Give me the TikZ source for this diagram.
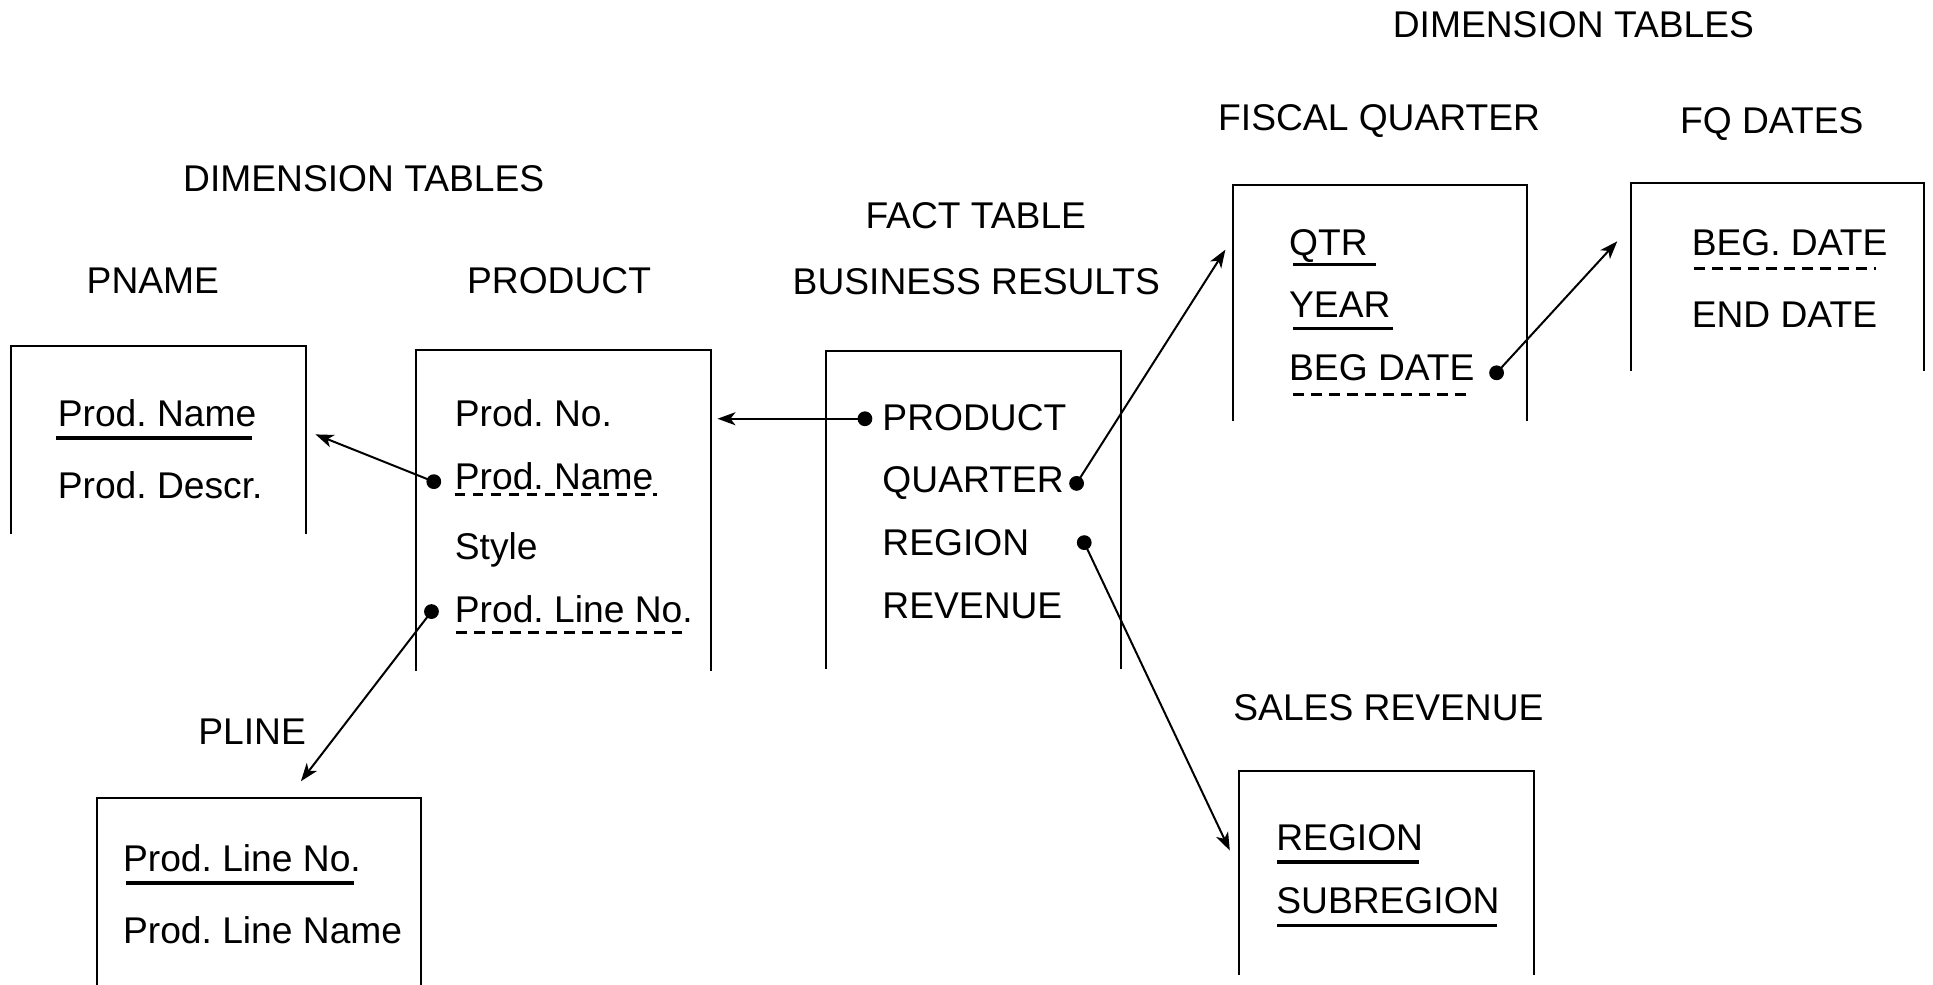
\documentclass[tikz,border=0pt]{standalone}
\usepackage{fontspec}
\setmainfont{Liberation Sans}
\usetikzlibrary{arrows.meta}
\frenchspacing
\begin{document}
\begin{tikzpicture}[x=0.61639pt,y=-0.615625pt,
 txt/.style={anchor=base west,inner sep=0pt,font=\fontsize{18.6pt}{22pt}\selectfont},
 ttl/.style={anchor=base,inner sep=0pt,font=\fontsize{18.6pt}{22pt}\selectfont},
 tbl/.style={line width=1pt},
 pkey/.style={line width=1.7pt},
 fkey/.style={line width=1.5pt,dash pattern=on 5.4pt off 3.6pt},
 link/.style={line width=1pt,-{Stealth[length=9pt,width=6.5pt,inset=2.5pt]}},
 dot/.style={circle,fill,inner sep=0pt,minimum size=7.4pt}]
\useasboundingbox (0,0) rectangle (1568,800);

% titles
\node[ttl] (dimR) at (1276.3,30.3) {DIMENSION TABLES};
\node[ttl] (fqT) at (1118.7,106.3) {FISCAL QUARTER};
\node[ttl] (fqdT) at (1437.2,108.2) {FQ DATES};
\node[ttl] (dimL) at (295,155.2) {DIMENSION TABLES};
\node[ttl] (factT) at (791.5,185.2) {FACT TABLE};
\node[ttl] (brT) at (792,238.8) {BUSINESS RESULTS};
\node[ttl] (pnT) at (124,238.3) {PNAME};
\node[ttl] (prT) at (453.5,238.3) {PRODUCT};
\node[ttl] (srT) at (1126.3,584.8) {SALES REVENUE};
\node[ttl] (plT) at (204.5,604.3) {PLINE};

% table frames (open at the bottom)
\draw[tbl] (9.3,434) -- (9.3,281.2) -- (248.4,281.2) -- (248.4,434);
\draw[tbl] (337.8,544.8) -- (337.8,283.9) -- (576.5,283.9) -- (576.5,544.8);
\draw[tbl] (670,543.4) -- (670,285.2) -- (909,285.2) -- (909,543.4);
\draw[tbl] (1000,342) -- (1000,150.5) -- (1239,150.5) -- (1239,342);
\draw[tbl] (1323,301.5) -- (1323,148.5) -- (1561,148.5) -- (1561,301.5);
\draw[tbl] (78.4,800) -- (78.4,648) -- (341.2,648) -- (341.2,800);
\draw[tbl] (1004.9,792) -- (1004.9,626.4) -- (1244.4,626.4) -- (1244.4,792);

% PNAME
\node[txt] (pnName) at (46.6,346.1) {Prod. Name};
\node[txt] (pnDescr) at (46.6,405) {Prod. Descr.};
\draw[pkey] (45.4,355.6) -- (204.8,355.6);

% PRODUCT
\node[txt] (prNo) at (368.7,346.1) {Prod. No.};
\node[txt] (prName) at (368.7,397.4) {Prod. Name};
\node[txt] (prStyle) at (368.7,454.2) {Style};
\node[txt] (prLine) at (368.7,505.6) {Prod. Line No.};
\draw[fkey] (368.7,401.5) -- (533,401.5);
\draw[fkey] (369.7,514) -- (553,514);

% FACT TABLE
\node[txt] (fProd) at (715.5,349.6) {PRODUCT};
\node[txt] (fQtr) at (715.5,400.1) {QUARTER};
\node[txt] (fReg) at (715.5,451.5) {REGION};
\node[txt] (fRev) at (715.5,502) {REVENUE};

% FISCAL QUARTER
\node[txt] (qQtr) at (1045.4,207.7) {QTR};
\node[txt] (qYear) at (1045.4,258.2) {YEAR};
\node[txt] (qBeg) at (1045.4,309) {BEG DATE};
\draw[pkey] (1049,214.6) -- (1116,214.6);
\draw[pkey] (1049,267) -- (1130,267);
\draw[fkey] (1049,320.4) -- (1192,320.4);

% FQ DATES
\node[txt] (dBeg) at (1372,207.7) {BEG. DATE};
\node[txt] (dEnd) at (1372,266.3) {END DATE};
\draw[fkey] (1374,217.7) -- (1522,217.7);

% PLINE
\node[txt] (plNo) at (99.5,707.8) {Prod. Line No.};
\node[txt] (plName) at (99.5,766.5) {Prod. Line Name};
\draw[pkey] (102,717.3) -- (287,717.3);

% SALES REVENUE
\node[txt] (sReg) at (1035,690.8) {REGION};
\node[txt] (sSub) at (1035,742.2) {SUBREGION};
\draw[pkey] (1036,700.2) -- (1151,700.2);
\draw[pkey] (1036,751.6) -- (1214,751.6);

% connector ends
\node[dot] (dPrName) at (351.9,391.2) {};
\node[dot] (dPrLine) at (350,496.7) {};
\node[dot] (dFProd) at (701.6,340.1) {};
\node[dot] (dFQtr) at (873.3,392.6) {};
\node[dot] (dFReg) at (879.5,440.7) {};
\node[dot] (dQBeg) at (1214,302.8) {};
\coordinate (tPname) at (255.9,352.8);
\coordinate (tPline) at (244.1,634.5);
\coordinate (tProduct) at (582,340.1);
\coordinate (tFq) at (994,202.8);
\coordinate (tSales) at (997.6,690.8);
\coordinate (tFqd) at (1311.9,196);

\draw[link] (dPrName.center) -- (tPname);
\draw[link] (dPrLine.center) -- (tPline);
\draw[link] (dFProd.center) -- (tProduct);
\draw[link] (dFQtr.center) -- (tFq);
\draw[link] (dFReg.center) -- (tSales);
\draw[link] (dQBeg.center) -- (tFqd);
\end{tikzpicture}
\end{document}
